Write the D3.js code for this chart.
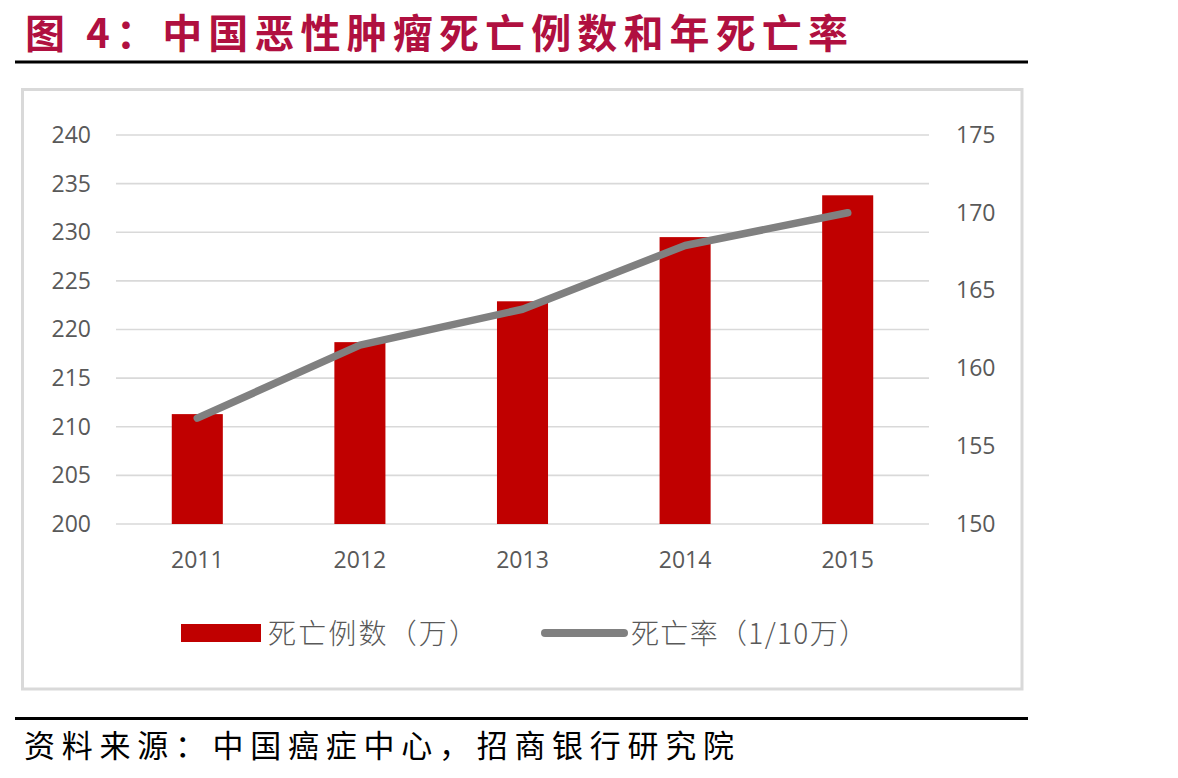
<!DOCTYPE html>
<html><head><meta charset="utf-8">
<script src="https://cdn.jsdelivr.net/npm/d3@7"></script>
<style>body{margin:0;background:#fff;} svg{display:block;}</style>
</head><body>
<svg id="c" width="1178" height="778"></svg>
<script>
const titleText = "图 4：中国恶性肿瘤死亡例数和年死亡率";
const sourceText = "资料来源：中国癌症中心，招商银行研究院";
const years = ["2011","2012","2013","2014","2015"];
const deaths = [211.3, 218.7, 222.9, 229.5, 233.8];      // 死亡例数（万）
const rates = [156.8, 161.5, 163.8, 167.9, 170.0];       // 死亡率（1/10万）
const leftTicks = [200,205,210,215,220,225,230,235,240];
const rightTicks = [150,155,160,165,170,175];
const seriesNames = ["死亡例数（万）","死亡率（1/10万）"];

const svg = d3.select("#c");
const L = 116, R = 929, T = 135, B = 524;

// title
svg.append("text").attr("x",25).attr("y",48)
  .attr("textLength",823).attr("lengthAdjust","spacing")
  .style("font-family","'Noto Sans CJK SC'").style("font-weight","700")
  .style("font-size","40px").attr("fill","#b01040").text(titleText);
svg.append("rect").attr("x",15).attr("y",60.5).attr("width",1013).attr("height",3).attr("fill","#000");

// chart frame
svg.append("rect").attr("x",22.5).attr("y",89.5).attr("width",999.5).attr("height",599.5)
  .attr("fill","none").attr("stroke","#d9d9d9").attr("stroke-width",3);

const x = d3.scaleBand().domain(years).range([L,R]).paddingInner(0.686).paddingOuter(0.343);
const yL = d3.scaleLinear().domain([200,240]).range([B,T]);
const yR = d3.scaleLinear().domain([150,175]).range([B,T]);

// gridlines
svg.append("g").selectAll("line").data(leftTicks).join("line")
  .attr("x1",L).attr("x2",R).attr("y1",d=>yL(d)).attr("y2",d=>yL(d))
  .attr("stroke","#d9d9d9").attr("stroke-width",1.6);

const tickFont = g => g.selectAll("text").style("font-family","'Open Sans'").style("font-size","23px").attr("fill","#595959");

const axL = svg.append("g").attr("transform",`translate(${L-25},0)`)
  .call(d3.axisLeft(yL).tickValues(leftTicks).tickSize(0).tickPadding(0));
axL.select(".domain").remove(); tickFont(axL);

const axR = svg.append("g").attr("transform",`translate(${R+27},0)`)
  .call(d3.axisRight(yR).tickValues(rightTicks).tickSize(0).tickPadding(0));
axR.select(".domain").remove(); tickFont(axR);

const axX = svg.append("g").attr("transform",`translate(0,${B+22})`)
  .call(d3.axisBottom(x).tickSize(0).tickPadding(6));
axX.select(".domain").remove(); tickFont(axX);

// bars
svg.append("g").selectAll("rect").data(years).join("rect")
  .attr("x",d=>x(d)).attr("width",x.bandwidth())
  .attr("y",(d,i)=>yL(deaths[i])).attr("height",(d,i)=>B-yL(deaths[i]))
  .attr("fill","#c00000");

// line
svg.append("path").datum(years)
  .attr("d", d3.line().x(d=>x(d)+x.bandwidth()/2).y((d,i)=>yR(rates[i])))
  .attr("fill","none").attr("stroke","#808080").attr("stroke-width",7.5)
  .attr("stroke-linecap","round").attr("stroke-linejoin","round");

// legend
const lg = svg.append("g");
lg.append("rect").attr("x",181).attr("y",624).attr("width",80).attr("height",18).attr("fill","#c00000");
lg.append("text").attr("x",268).attr("y",644).attr("textLength",209).attr("lengthAdjust","spacing")
  .style("font-family","'Noto Sans CJK SC'").style("font-weight","300").style("font-size","28px")
  .attr("fill","#595959").text(seriesNames[0]);
lg.append("line").attr("x1",545).attr("x2",624).attr("y1",633).attr("y2",633)
  .attr("stroke","#808080").attr("stroke-width",8).attr("stroke-linecap","round");
lg.append("text").attr("x",631).attr("y",644).attr("textLength",236).attr("lengthAdjust","spacing")
  .style("font-family","'Noto Sans CJK SC'").style("font-weight","300").style("font-size","28px")
  .attr("fill","#595959").text(seriesNames[1]);

// footer
svg.append("rect").attr("x",15).attr("y",717).attr("width",1013).attr("height",3).attr("fill","#000");
svg.append("text").attr("x",24).attr("y",757).attr("textLength",710).attr("lengthAdjust","spacing")
  .style("font-family","'Noto Sans CJK SC'").style("font-size","31px").attr("fill","#000").text(sourceText);
</script>
</body></html>
